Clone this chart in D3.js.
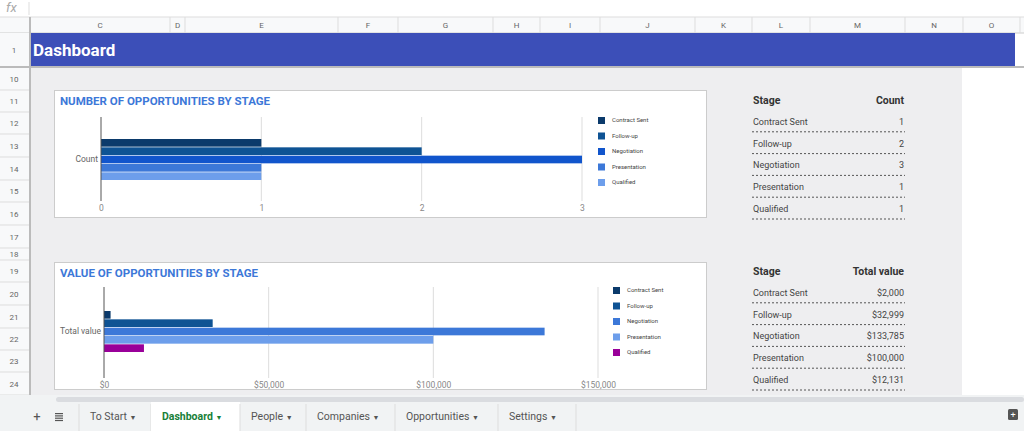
<!DOCTYPE html>
<html><head><meta charset="utf-8">
<script src="https://cdn.jsdelivr.net/npm/d3@7"></script>
<style>body{margin:0;overflow:hidden;background:#fff}text{font-family:Roboto,Arial,sans-serif}</style>
</head><body>
<script>
// chart data
var stages = ["Contract Sent", "Follow-up", "Negotiation", "Presentation", "Qualified"];
var counts = [1, 2, 3, 1, 1];
var values = [2000, 32999, 133785, 100000, 12131];
var valueLabels = ["$2,000", "$32,999", "$133,785", "$100,000", "$12,131"];
var countColors = ["#0b3a6b", "#0e5394", "#1155cc", "#3c78d8", "#6d9eeb"];
var valueColors = ["#0b3a6b", "#0e5394", "#3c78d8", "#6d9eeb", "#990099"];
var columns = ["C", "D", "E", "F", "G", "H", "I", "J", "K", "L", "M", "N", "O"];
var colEdges = [30, 170, 185, 338, 398, 493, 540, 600, 695, 752, 810, 905, 963, 1020];
var rowNums = ["10", "11", "12", "13", "14", "15", "16", "17", "18", "19", "20", "21", "22", "23", "24"];
var rowEdges = [68, 90, 112, 134, 157, 180, 202, 225, 248, 260, 282, 305, 328, 350, 372, 395];
var tabs = ["To Start", "Dashboard", "People", "Companies", "Opportunities", "Settings"];

var svg = d3.select("body").append("svg").attr("width", 1024).attr("height", 431);

// formula bar
svg.append("rect").attr("width", 1024).attr("height", 17).attr("fill", "#fff");
svg.append("text").attr("x", 6).attr("y", 12).attr("font-size", 13).attr("font-style", "italic")
  .attr("fill", "#aaa").attr("font-family", "serif").text("fx");
svg.append("line").attr("x1", 29).attr("x2", 29).attr("y1", 2).attr("y2", 15).attr("stroke", "#ddd");

// column header
svg.append("rect").attr("y", 17).attr("width", 1024).attr("height", 16).attr("fill", "#f8f9fa");
svg.append("line").attr("x1", 0).attr("x2", 1024).attr("y1", 33).attr("y2", 33).attr("stroke", "#ccc");
svg.append("line").attr("x1", 0).attr("x2", 1024).attr("y1", 17).attr("y2", 17).attr("stroke", "#ddd");
columns.forEach(function(c, i) {
  svg.append("line").attr("x1", colEdges[i + 1]).attr("x2", colEdges[i + 1]).attr("y1", 17).attr("y2", 33).attr("stroke", "#ddd");
  svg.append("text").attr("x", (colEdges[i] + colEdges[i + 1]) / 2).attr("y", 28).attr("text-anchor", "middle")
    .attr("font-size", 8).attr("fill", "#666").text(c);
});
svg.append("line").attr("x1", 30).attr("x2", 30).attr("y1", 17).attr("y2", 395).attr("stroke", "#bbb").attr("stroke-width", 2);

// row header column
svg.append("rect").attr("y", 33).attr("width", 29).attr("height", 362).attr("fill", "#f8f9fa");
svg.append("text").attr("x", 14).attr("y", 53).attr("text-anchor", "middle").attr("font-size", 8).attr("fill", "#666").text("1");
svg.append("rect").attr("x", 0).attr("y", 66).attr("width", 1024).attr("height", 2).attr("fill", "#bbb");
rowNums.forEach(function(r, i) {
  svg.append("line").attr("x1", 0).attr("x2", 29).attr("y1", rowEdges[i + 1]).attr("y2", rowEdges[i + 1]).attr("stroke", "#ddd");
  svg.append("text").attr("x", 14).attr("y", (rowEdges[i] + rowEdges[i + 1]) / 2 + 3).attr("text-anchor", "middle")
    .attr("font-size", 8).attr("fill", "#666").text(r);
});

// banner
svg.append("rect").attr("x", 31).attr("y", 33).attr("width", 984).attr("height", 33).attr("fill", "#3c4fb8");
svg.append("text").attr("x", 33).attr("y", 56).attr("font-size", 17).attr("font-weight", "bold").attr("fill", "#fff").text("Dashboard");

// grey body
svg.append("rect").attr("x", 31).attr("y", 68).attr("width", 931).attr("height", 327).attr("fill", "#eeeef0");

function barChart(top, title, data, colors, x0, x1, maxV, ticks, tickFmt, catLabel, legendX, legendY, gTop, gBot) {
  var g = svg.append("g");
  g.append("rect").attr("x", 54.5).attr("y", top + 0.5).attr("width", 652).attr("height", 127)
    .attr("fill", "#fff").attr("stroke", "#ccc");
  g.append("text").attr("x", 60).attr("y", top + 15).attr("font-size", 11.5).attr("font-weight", "bold")
    .attr("fill", "#3c78d8").text(title);
  var x = d3.scaleLinear().domain([0, maxV]).range([x0, x1]);
  var y = d3.scaleBand().domain(stages).range([top + 49, top + 90]).paddingInner(0.08);
  var gy1 = top + gTop, gy2 = top + gBot;
  g.selectAll(".grid").data(ticks.slice(1)).join("line")
    .attr("x1", function(d) { return x(d); }).attr("x2", function(d) { return x(d); })
    .attr("y1", gy1).attr("y2", gy2).attr("stroke", "#ddd");
  var ax = d3.axisBottom(x).tickValues(ticks).tickFormat(tickFmt).tickSize(0).tickPadding(0);
  var axg = g.append("g").attr("transform", "translate(0," + (gy2 + 4) + ")").call(ax);
  axg.select(".domain").remove();
  axg.selectAll("text").attr("font-size", 8.5).attr("fill", "#888").attr("font-family", "Roboto");
  g.selectAll(".bar").data(data).join("rect")
    .attr("x", x(0)).attr("y", function(d, i) { return y(stages[i]); })
    .attr("width", function(d) { return x(d) - x(0); }).attr("height", y.bandwidth())
    .attr("fill", function(d, i) { return colors[i]; });
  g.append("line").attr("x1", x0).attr("x2", x0).attr("y1", gy1).attr("y2", gy2).attr("stroke", "#555");
  g.append("text").attr("x", x0 - 3).attr("y", top + 72).attr("text-anchor", "end").attr("font-size", 8.5)
    .attr("fill", "#666").text(catLabel);
  stages.forEach(function(s, i) {
    g.append("rect").attr("x", legendX).attr("y", legendY + i * 15.5 - 4).attr("width", 7).attr("height", 7).attr("fill", colors[i]);
    g.append("text").attr("x", legendX + 14).attr("y", legendY + i * 15.5 + 1).attr("font-size", 6).attr("fill", "#444").text(s);
  });
}
barChart(90, "NUMBER OF OPPORTUNITIES BY STAGE", counts, countColors, 101, 582, 3, [0, 1, 2, 3], d3.format("d"), "Count", 598, 121, 27, 111);
barChart(262, "VALUE OF OPPORTUNITIES BY STAGE", values, valueColors, 104, 598, 150000, [0, 50000, 100000, 150000],
  function(d) { return "$" + d3.format(",")(d); }, "Total value", 613, 291, 25, 116);

function table(top, head, cells) {
  svg.append("text").attr("x", 753).attr("y", top + 14).attr("font-size", 10.5).attr("font-weight", "bold").attr("fill", "#333").text("Stage");
  svg.append("text").attr("x", 904).attr("y", top + 14).attr("text-anchor", "end").attr("font-size", 10.5).attr("font-weight", "bold").attr("fill", "#333").text(head);
  stages.forEach(function(s, i) {
    var yy = top + 21.8 * (i + 1);
    svg.append("text").attr("x", 753).attr("y", yy + 13).attr("font-size", 9).attr("fill", "#444").text(s);
    svg.append("text").attr("x", 904).attr("y", yy + 13).attr("text-anchor", "end").attr("font-size", 9).attr("fill", "#444").text(cells[i]);
    svg.append("line").attr("x1", 752).attr("x2", 905).attr("y1", yy + 20).attr("y2", yy + 20)
      .attr("stroke", "#555").attr("stroke-dasharray", "2,2");
  });
}
table(90, "Count", counts.map(String));
table(261, "Total value", valueLabels);

// scrollbar + tabs
svg.append("rect").attr("y", 395).attr("width", 1024).attr("height", 36).attr("fill", "#f1f3f4");
svg.append("rect").attr("x", 56).attr("y", 397).attr("width", 968).attr("height", 5).attr("rx", 2.5).attr("fill", "#dadce0");
svg.append("text").attr("x", 37).attr("y", 421).attr("text-anchor", "middle").attr("font-size", 13).attr("fill", "#555").text("+");
[0, 1, 2, 3].forEach(function(i) {
  svg.append("rect").attr("x", 55).attr("y", 413 + i * 2.3).attr("width", 8).attr("height", 1.2).attr("fill", "#555");
});
var tabEdges = [79, 151, 240, 306, 395, 498, 576];
tabs.forEach(function(t, i) {
  var active = i === 1;
  if (active) svg.append("rect").attr("x", tabEdges[i]).attr("y", 402).attr("width", tabEdges[i + 1] - tabEdges[i]).attr("height", 29).attr("fill", "#fff");
  svg.append("line").attr("x1", tabEdges[i + 1]).attr("x2", tabEdges[i + 1]).attr("y1", 404).attr("y2", 431).attr("stroke", "#ddd");
  var tx = svg.append("text").attr("x", tabEdges[i] + 11).attr("y", 420).attr("font-size", 10.5)
    .attr("font-weight", active ? "bold" : "normal").attr("fill", active ? "#188038" : "#555").text(t + " ");
  tx.append("tspan").attr("font-size", 7).text("\u25BC");
});
svg.append("line").attr("x1", 79).attr("x2", 79).attr("y1", 404).attr("y2", 431).attr("stroke", "#ddd");
svg.append("rect").attr("x", 1008).attr("y", 409).attr("width", 10).attr("height", 11).attr("rx", 1.5).attr("fill", "#555");
svg.append("text").attr("x", 1013).attr("y", 418).attr("text-anchor", "middle").attr("font-size", 9).attr("fill", "#fff").text("+");
</script>
</body></html>
